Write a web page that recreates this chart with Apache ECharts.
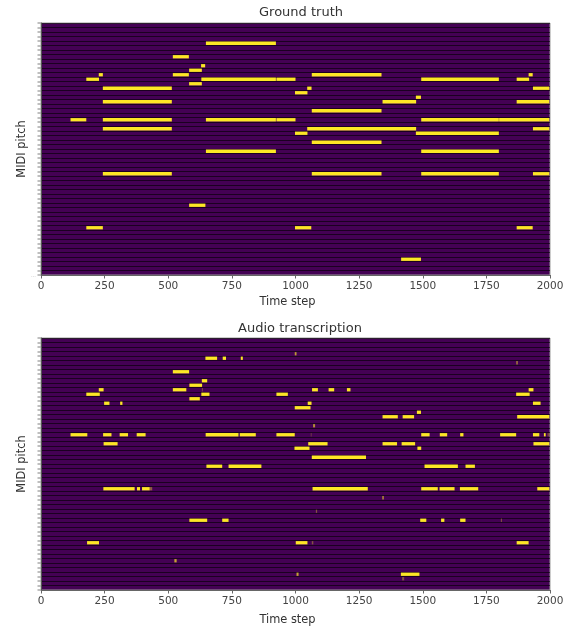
<!DOCTYPE html>
<html>
<head>
  <meta charset="utf-8">
  <title>Ground truth vs audio transcription</title>
</head>
<body style="margin: 0; background: #fff;">
  <div id="container" style="width: 576px; height: 629px;"></div>
  <script src="https://cdn.jsdelivr.net/npm/echarts@6/dist/echarts.min.js"></script>
  <script type="text/javascript">
    // rows are counted from the top of the piano roll, 56 rows in all
    const rowCount = 56;
    const xTicks = [0, 250, 500, 750, 1000, 1250, 1500, 1750, 2000];

    const truthRows = [4, 7, 9, 10, 11, 11, 11, 11, 12, 12, 12, 12, 12, 13, 14, 14, 14, 15, 16, 17, 17, 17, 19, 21, 21, 21, 21, 21, 21, 23, 23, 23, 24, 24, 26, 28, 28, 33, 33, 33, 33, 40, 45, 45, 45, 52];
    const truthStarts = [648, 518, 629, 582, 227, 518, 1064, 1916, 178, 630, 925, 1494, 1869, 582, 243, 1046, 1933, 998, 1473, 243, 1342, 1869, 1064, 116, 243, 648, 925, 1494, 1800, 243, 1046, 1933, 998, 1473, 1064, 648, 1494, 243, 1064, 1494, 1933, 582, 178, 998, 1869, 1415];
    const truthEnds = [923, 581, 645, 632, 243, 581, 1338, 1932, 228, 923, 1000, 1799, 1918, 632, 514, 1063, 1997, 1047, 1493, 514, 1474, 1997, 1338, 178, 514, 923, 1000, 1799, 1997, 514, 1474, 1997, 1047, 1799, 1338, 923, 1799, 514, 1338, 1799, 1997, 646, 243, 1062, 1932, 1493];

    const audioRows = [3, 4, 4, 4, 5, 7, 9, 10, 11, 11, 11, 11, 11, 11, 11, 12, 12, 12, 12, 13, 14, 14, 14, 14, 15, 16, 17, 17, 17, 19, 21, 21, 21, 21, 21, 21, 21, 21, 21, 21, 21, 21, 21, 21, 21, 23, 23, 23, 23, 23, 24, 24, 26, 28, 28, 28, 28, 33, 33, 33, 33, 33, 33, 33, 33, 33, 35, 38, 40, 40, 40, 40, 40, 40, 45, 45, 45, 45, 49, 52, 52, 53];
    const audioStarts = [997, 646, 714, 785, 1867, 518, 632, 583, 227, 518, 632, 1065, 1130, 1202, 1916, 178, 630, 925, 1867, 583, 248, 311, 1048, 1933, 997, 1477, 1342, 1421, 1871, 1069, 116, 244, 309, 376, 647, 781, 925, 1060, 1494, 1567, 1647, 1804, 1933, 1976, 1990, 246, 1050, 1342, 1417, 1935, 996, 1479, 1064, 650, 737, 1507, 1668, 245, 377, 397, 427, 1067, 1494, 1566, 1646, 1950, 1341, 1080, 583, 712, 1490, 1572, 1647, 1807, 181, 1001, 1064, 1869, 524, 1004, 1414, 1419];
    const audioEnds = [1004, 692, 727, 793, 1874, 582, 653, 633, 246, 571, 636, 1088, 1152, 1216, 1935, 231, 662, 970, 1920, 624, 269, 320, 1063, 1963, 1059, 1493, 1402, 1466, 1997, 1077, 182, 277, 342, 411, 776, 844, 997, 1063, 1527, 1596, 1660, 1867, 1958, 1983, 1998, 301, 1126, 1399, 1470, 1997, 1055, 1494, 1277, 712, 866, 1638, 1705, 368, 389, 427, 437, 1284, 1559, 1625, 1718, 1997, 1347, 1085, 653, 737, 1514, 1585, 1668, 1811, 228, 1047, 1070, 1916, 533, 1012, 1487, 1427];
    // how bright each transcribed note is, most are full on
    const audioLevels = [0.65, 1, 1, 1, 0.45, 1, 1, 1, 1, 1, 0.3, 1, 1, 1, 1, 1, 1, 1, 1, 1, 1, 1, 1, 1, 1, 1, 1, 1, 1, 0.6, 1, 1, 1, 1, 1, 1, 1, 0.3, 1, 1, 1, 1, 1, 1, 0.3, 1, 1, 1, 1, 1, 1, 1, 1, 1, 1, 1, 1, 1, 1, 1, 0.4, 1, 1, 1, 1, 1, 0.6, 0.35, 1, 1, 1, 1, 1, 0.35, 1, 1, 0.35, 1, 0.7, 0.7, 1, 0.35];

    function notes(rows, starts, ends, levels) {
      return rows.map((r, i) => [starts[i], ends[i], r, levels ? levels[i] : 1]);
    }

    function drawNote(params, api) {
      const a = api.coord([api.value(0), api.value(2)]);
      const b = api.coord([api.value(1), api.value(2) + 1]);
      const h = b[1] - a[1];
      return {
        type: 'rect',
        shape: { x: a[0], y: a[1] + 0.6, width: b[0] - a[0], height: h - 1.2 },
        style: { fill: '#fde725', opacity: api.value(3) }
      };
    }

    function xAxis(index, gap) {
      return {
        gridIndex: index,
        type: 'value',
        min: xTicks[0],
        max: xTicks[xTicks.length - 1],
        interval: xTicks[1] - xTicks[0],
        name: 'Time step',
        nameLocation: 'middle',
        nameGap: gap,
        nameTextStyle: { color: '#333', fontSize: 11.4, fontFamily: 'DejaVu Sans', padding: [0, 16, 0, 0] },
        axisLine: { onZero: false, lineStyle: { color: '#666' } },
        axisTick: { length: 3.5, lineStyle: { color: '#666' } },
        axisLabel: { color: '#444', fontSize: 10.5, fontFamily: 'DejaVu Sans', margin: 6, formatter: v => String(v) },
        splitLine: { show: false }
      };
    }

    function yAxis(index, dots) {
      return {
        gridIndex: index,
        type: 'value',
        inverse: true,
        min: 0,
        max: rowCount,
        interval: 1,
        name: 'MIDI pitch',
        nameLocation: 'middle',
        nameGap: 13,
        nameMoveOverlap: false,
        nameTextStyle: { color: '#333', fontSize: 11.4, fontFamily: 'DejaVu Sans' },
        axisLine: { onZero: false, lineStyle: { color: '#555' } },
        axisTick: { length: 3.5, lineStyle: { color: '#aaa', width: 1.5 } },
        axisLabel: {
          color: '#aaa',
          fontSize: 6,
          margin: 5,
          formatter: v => (dots && v === rowCount ? '...' : '')
        },
        splitLine: { show: true, lineStyle: { color: '#000', width: 1, opacity: 0.6 } }
      };
    }

    const titleStyle = { color: '#333', fontSize: 13, fontWeight: 'normal', fontFamily: 'DejaVu Sans' };
    const myChart = echarts.init(document.getElementById('container'));

    myChart.setOption({
      animation: false,
      title: [
        { text: 'Ground truth', left: 296, top: 1, textAlign: 'center', textStyle: titleStyle },
        { text: 'Audio transcription', left: 295, top: 317, textAlign: 'center', textStyle: titleStyle }
      ],
      grid: [
        { left: 41, top: 23, width: 509, height: 252, show: true, backgroundColor: '#440154', borderColor: '#999', borderWidth: 1 },
        { left: 41, top: 338, width: 509, height: 252, show: true, backgroundColor: '#440154', borderColor: '#999', borderWidth: 1 }
      ],
      xAxis: [xAxis(0, 22), xAxis(1, 25)],
      yAxis: [yAxis(0, true), yAxis(1, false)],
      series: [
        {
          type: 'custom',
          xAxisIndex: 0,
          yAxisIndex: 0,
          renderItem: drawNote,
          encode: { x: [0, 1], y: 2 },
          data: notes(truthRows, truthStarts, truthEnds)
        },
        {
          type: 'custom',
          xAxisIndex: 1,
          yAxisIndex: 1,
          renderItem: drawNote,
          encode: { x: [0, 1], y: 2 },
          data: notes(audioRows, audioStarts, audioEnds, audioLevels)
        }
      ]
    });

    window.addEventListener('resize', myChart.resize);
  </script>
</body>
</html>
